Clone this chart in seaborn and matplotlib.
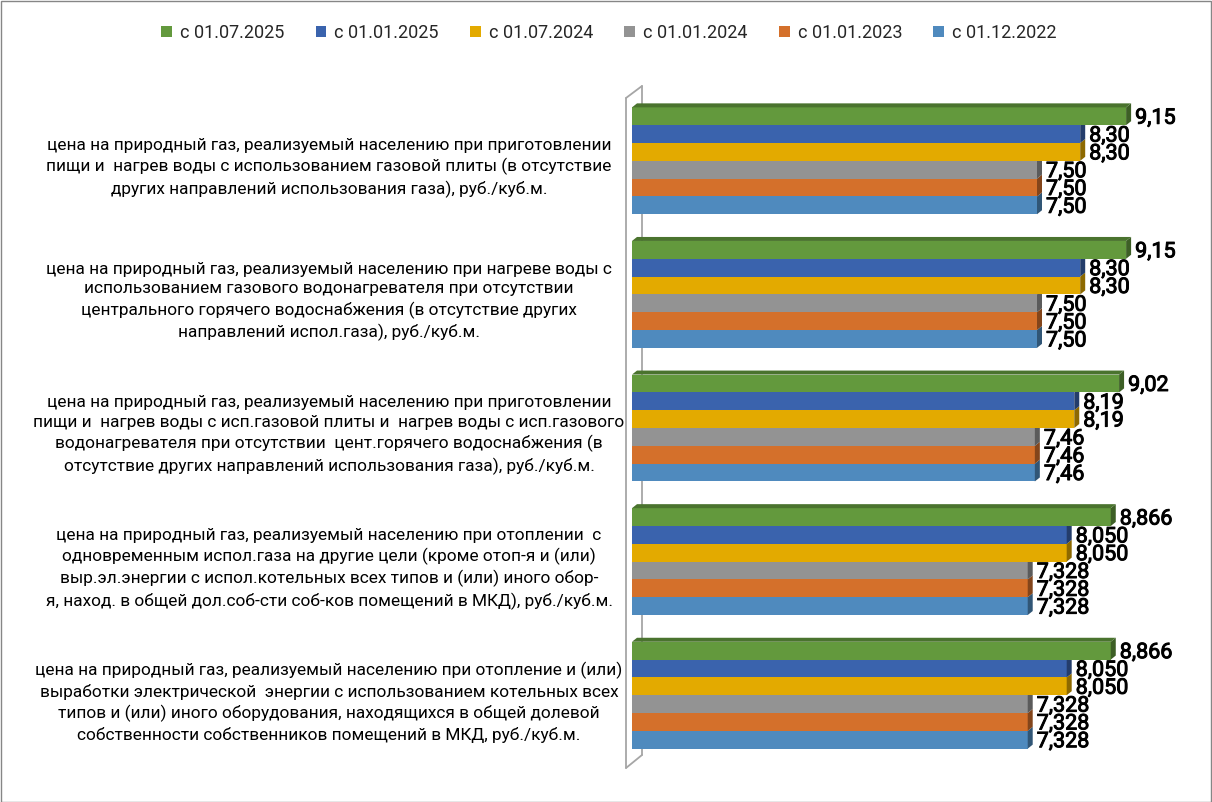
import numpy as np
import pandas as pd
import seaborn as sns
import matplotlib.pyplot as plt
import matplotlib.transforms as mtransforms
import matplotlib.patheffects as pe
from matplotlib.patches import Polygon, Rectangle
from matplotlib.lines import Line2D
import matplotlib.colors as mcolors

# data
categories = [
    "цена на природный газ, реализуемый населению при приготовлении\n"
    "пищи и  нагрев воды с использованием газовой плиты (в отсутствие\n"
    "других направлений использования газа), руб./куб.м.",
    "цена на природный газ, реализуемый населению при нагреве воды с\n"
    "использованием газового водонагревателя при отсутствии\n"
    "центрального горячего водоснабжения (в отсутствие других\n"
    "направлений испол.газа), руб./куб.м.",
    "цена на природный газ, реализуемый населению при приготовлении\n"
    "пищи и  нагрев воды с исп.газовой плиты и  нагрев воды с исп.газового\n"
    "водонагревателя при отсутствии  цент.горячего водоснабжения (в\n"
    "отсутствие других направлений использования газа), руб./куб.м.",
    "цена на природный газ, реализуемый населению при отоплении  с\n"
    "одновременным испол.газа на другие цели (кроме отоп-я и (или)\n"
    "выр.эл.энергии с испол.котельных всех типов и (или) иного обор-\n"
    "я, наход. в общей дол.соб-сти соб-ков помещений в МКД), руб./куб.м.",
    "цена на природный газ, реализуемый населению при отопление и (или)\n"
    "выработки электрической  энергии с использованием котельных всех\n"
    "типов и (или) иного оборудования, находящихся в общей долевой\n"
    "собственности собственников помещений в МКД, руб./куб.м.",
]
periods = ["с 01.07.2025", "с 01.01.2025", "с 01.07.2024",
           "с 01.01.2024", "с 01.01.2023", "с 01.12.2022"]
colors = ["#63993d", "#3a63ad", "#e3aa00", "#939393", "#d4702b", "#4f8abe"]

price_2025_07 = [9.15, 9.15, 9.02, 8.866, 8.866]
price_2025_01 = [8.30, 8.30, 8.19, 8.050, 8.050]
price_2024_07 = [8.30, 8.30, 8.19, 8.050, 8.050]
price_2024_01 = [7.50, 7.50, 7.46, 7.328, 7.328]
price_2023_01 = [7.50, 7.50, 7.46, 7.328, 7.328]
price_2022_12 = [7.50, 7.50, 7.46, 7.328, 7.328]
decimals = [2, 2, 2, 3, 3]

series = [price_2025_07, price_2025_01, price_2024_07,
          price_2024_01, price_2023_01, price_2022_12]
rows = []
for period, vals in zip(periods, series):
    for i, v in enumerate(vals):
        rows.append({"cat": i, "period": period, "value": v})
df = pd.DataFrame(rows)

sns.set_style("white")
plt.rcParams["font.family"] = ["Roboto", "DejaVu Sans"]

W, H = 1212, 802
fig = plt.figure(figsize=(W / 100, H / 100), dpi=100)
ax_left, ax_right, ax_top, ax_bot = 632, 1191, 94, 762
ax = fig.add_axes([ax_left / W, 1 - ax_bot / H, (ax_right - ax_left) / W, (ax_bot - ax_top) / H])
ax.patch.set_alpha(0)

sns.barplot(data=df, x="value", y="cat", hue="period", hue_order=periods,
            palette=colors, orient="h", saturation=1, width=0.8,
            ax=ax, edgecolor="none", errorbar=None)

xmax = (ax_right - ax_left) / 54.0
ax.set_xlim(0, xmax)
ax.set_ylim(4.5, -0.5)
ax.set_xticks([])
ax.set_yticks([])
ax.set_xlabel("")
ax.set_ylabel("")
for s in ax.spines.values():
    s.set_visible(False)

handles, labels = ax.get_legend_handles_labels()
ax.legend_.remove()

# pixel -> data scale for the 3d depth
px_x = (ax_right - ax_left) / xmax
px_y = (ax_bot - ax_top) / 5.0
ddx = 5 / px_x
ddy = 4 / px_y

bars = [p for p in ax.patches if isinstance(p, Rectangle) and p.get_width() > 0]
for p in bars:
    w = p.get_width()
    y0 = p.get_y()
    h = p.get_height()
    c = (p.get_y() + h / 2)
    cat = int(round(c))
    k = int(round((c - cat + 0.4) / h - 0.5))
    z = 10 - k
    p.set_zorder(z)
    fc = np.array(mcolors.to_rgb(p.get_facecolor()))
    side = Polygon([(w, y0), (w + ddx, y0 - ddy), (w + ddx, y0 + h - ddy), (w, y0 + h)],
                   closed=True, facecolor=fc * 0.62, edgecolor="none", zorder=z)
    ax.add_patch(side)
    if k == 0:
        top = Polygon([(0, y0), (w, y0), (w + ddx, y0 - ddy), (ddx, y0 - ddy)],
                      closed=True, facecolor=fc * 0.75, edgecolor="none", zorder=z)
        ax.add_patch(top)
    txt = f"{w:.{decimals[cat]}f}".replace(".", ",")
    ax.annotate(txt, (w, c), xytext=(9, -2), textcoords="offset pixels",
                ha="left", va="center", fontsize=15.5,
                color="black", zorder=20, annotation_clip=False,
                path_effects=[pe.withStroke(linewidth=0.7, foreground="black")])

# back wall
def fp(x, y):
    return (x / W, 1 - y / H)

wall_c = "#a6a6a6"
for (a, b), z in [(((642, 86), (642, 755)), 0.5),
                  (((626, 98), (626, 768)), 3),
                  (((626, 98), (642, 86)), 3),
                  (((626, 768), (642, 755)), 3)]:
    (x1, y1), (x2, y2) = fp(*a), fp(*b)
    ax.add_line(Line2D([x1, x2], [y1, y2], transform=fig.transFigure,
                       color=wall_c, lw=1.3, zorder=z, clip_on=False))

# category labels
trans = mtransforms.blended_transform_factory(fig.transFigure, ax.transData)
for i, lab in enumerate(categories):
    ax.annotate(lab, (329 / W, i), xycoords=trans, xytext=(0, -7),
                textcoords="offset pixels", ha="center", va="center",
                multialignment="center", fontsize=12.4, linespacing=1.38,
                color="black", annotation_clip=False)

fig.legend(handles, labels, loc="center", bbox_to_anchor=(609 / W, 1 - 33 / H),
           ncol=6, frameon=False, fontsize=13, handlelength=0.6,
           handleheight=0.6, handletextpad=0.45, columnspacing=1.72)

fig.add_artist(Rectangle((0.5 / W, 0.5 / H), 1 - 1.5 / W, 1 - 1.5 / H,
                         transform=fig.transFigure, fill=False,
                         edgecolor="#868686", lw=1))

fig.savefig("out.png", dpi=100)
